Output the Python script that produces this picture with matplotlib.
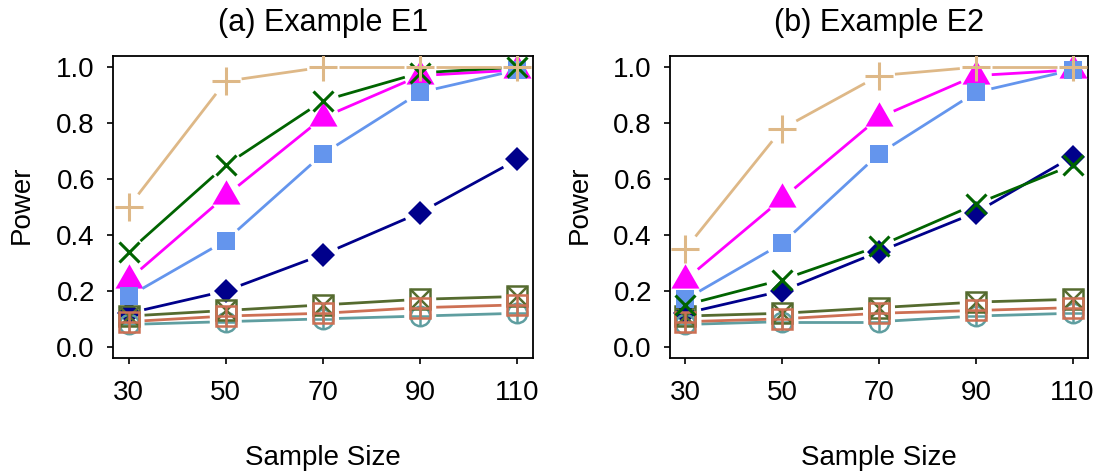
import numpy as np
import matplotlib
matplotlib.use("Agg")
import matplotlib.pyplot as plt
from matplotlib.path import Path

plt.rcParams['font.family'] = ['Liberation Sans', 'DejaVu Sans']

sample_sizes = [30, 50, 70, 90, 110]
x_ticks = [30, 50, 70, 90, 110]
y_ticks = [0.0, 0.2, 0.4, 0.6, 0.8, 1.0]
titles = ["(a) Example E1", "(b) Example E2"]

# Example E1
e1_tan = [0.50, 0.95, 1.00, 1.00, 1.00]
e1_green = [0.34, 0.65, 0.88, 0.98, 1.00]
e1_magenta = [0.24, 0.54, 0.82, 0.97, 0.99]
e1_blue = [0.18, 0.38, 0.69, 0.91, 0.99]
e1_navy = [0.12, 0.20, 0.33, 0.48, 0.67]
e1_olive = [0.11, 0.13, 0.15, 0.17, 0.18]
e1_coral = [0.09, 0.11, 0.12, 0.14, 0.15]
e1_teal = [0.08, 0.09, 0.10, 0.11, 0.12]

# Example E2
e2_tan = [0.35, 0.78, 0.97, 1.00, 1.00]
e2_green = [0.15, 0.24, 0.36, 0.51, 0.65]
e2_magenta = [0.24, 0.53, 0.82, 0.97, 0.99]
e2_blue = [0.17, 0.37, 0.69, 0.91, 0.99]
e2_navy = [0.12, 0.20, 0.34, 0.48, 0.68]
e2_olive = [0.11, 0.12, 0.14, 0.16, 0.17]
e2_coral = [0.09, 0.10, 0.12, 0.13, 0.14]
e2_teal = [0.08, 0.09, 0.09, 0.11, 0.12]

C_TAN = "#DEB887"
C_GREEN = "#006400"
C_MAGENTA = "#FF00FF"
C_BLUE = "#6495ED"
C_NAVY = "#00008B"
C_OLIVE = "#556B2F"
C_CORAL = "#CD7054"
C_TEAL = "#5F9EA0"

W, H = 1103, 475
fig = plt.figure(figsize=(W / 100, H / 100), dpi=100)

# R-style triangle centred on its centroid
tri = Path([(0, 1), (-0.866, -0.5), (0.866, -0.5), (0, 1)],
           [Path.MOVETO, Path.LINETO, Path.LINETO, Path.CLOSEPOLY])

GAP = 16  # px gap between line ends and points (R type="b")
LW = 2.0


def gapped_line(ax, x, y, color, z):
    pts = ax.transData.transform(np.column_stack([x, y]))
    inv = ax.transData.inverted()
    for p, q in zip(pts[:-1], pts[1:]):
        d = q - p
        L = np.hypot(*d)
        if L <= 2 * GAP:
            continue
        u = d / L
        seg = inv.transform(np.array([p + u * GAP, q - u * GAP]))
        ax.plot(seg[:, 0], seg[:, 1], color=color, lw=LW, zorder=z,
                solid_capstyle='butt')


def draw_panel(ax, data):
    ax.set_xlim(26.8, 113.2)
    ax.set_ylim(-0.04, 1.04)
    tan, green, magenta, blue, navy, olive, coral, teal = data
    x = sample_sizes
    # navy diamonds
    gapped_line(ax, x, navy, C_NAVY, 2)
    ax.plot(x, navy, ls='none', marker='D', ms=12, mew=0, color=C_NAVY, zorder=2.1)
    # low series
    gapped_line(ax, x, teal, C_TEAL, 3)
    ax.plot(x, teal, ls='none', marker='o', ms=14, mfc='none', mec=C_TEAL, mew=1.8, zorder=3.1)
    ax.plot(x, teal, ls='none', marker='+', ms=14, mec=C_TEAL, mew=1.8, zorder=3.1)
    gapped_line(ax, x, olive, C_OLIVE, 3.2)
    ax.plot(x, olive, ls='none', marker='s', ms=14, mfc='none', mec=C_OLIVE, mew=1.8, zorder=3.3)
    ax.plot(x, olive, ls='none', marker='x', ms=14, mec=C_OLIVE, mew=1.8, zorder=3.3)
    gapped_line(ax, x, coral, C_CORAL, 3.4)
    ax.plot(x, coral, ls='none', marker='s', ms=14, mfc='none', mec=C_CORAL, mew=1.8, zorder=3.5)
    ax.plot(x, coral, ls='none', marker='+', ms=14, mec=C_CORAL, mew=1.8, zorder=3.5)
    # magenta triangles
    gapped_line(ax, x, magenta, C_MAGENTA, 4)
    ax.plot(x, magenta, ls='none', marker=tri, ms=23.3, mew=0, color=C_MAGENTA, zorder=4.1)
    # blue squares
    gapped_line(ax, x, blue, C_BLUE, 4.2)
    ax.plot(x, blue, ls='none', marker='s', ms=13.5, mew=0, color=C_BLUE, zorder=4.3)
    # green x
    gapped_line(ax, x, green, C_GREEN, 4.4)
    ax.plot(x, green, ls='none', marker='x', ms=15, mew=2.2, color=C_GREEN, zorder=4.5)
    # tan +
    gapped_line(ax, x, tan, C_TAN, 4.6)
    ax.plot(x, tan, ls='none', marker='+', ms=20, mew=2.2, color=C_TAN, zorder=4.7)

    ax.set_xticks(x_ticks)
    ax.set_xticklabels([str(v) for v in x_ticks])
    ax.set_yticks(y_ticks)
    ax.set_yticklabels([f"{v:.1f}" for v in y_ticks])
    ax.tick_params(axis='both', direction='out', length=4, width=1.2,
                   labelsize=20)
    ax.tick_params(axis='x', pad=12)
    ax.tick_params(axis='y', pad=9)
    for s in ax.spines.values():
        s.set_linewidth(1.3)


ax1 = fig.add_axes([113 / W, 1 - 358 / H, 420 / W, 302 / H])
ax2 = fig.add_axes([670 / W, 1 - 358 / H, 418 / W, 302 / H])

draw_panel(ax1, (e1_tan, e1_green, e1_magenta, e1_blue, e1_navy, e1_olive, e1_coral, e1_teal))
draw_panel(ax2, (e2_tan, e2_green, e2_magenta, e2_blue, e2_navy, e2_olive, e2_coral, e2_teal))

for ax, t, ylab_x in ((ax1, titles[0], 22), (ax2, titles[1], 580)):
    pos = ax.get_position()
    cx = (pos.x0 + pos.x1) / 2
    fig.text(cx, 1 - 23 / H, t, ha='center', va='center', fontsize=22)
    fig.text(cx, 1 - 458 / H, "Sample Size", ha='center', va='center', fontsize=20)
    fig.text(ylab_x / W, 1 - 205 / H, "Power", ha='center', va='center',
             rotation=90, fontsize=20)

fig.savefig("out.png", dpi=100)
